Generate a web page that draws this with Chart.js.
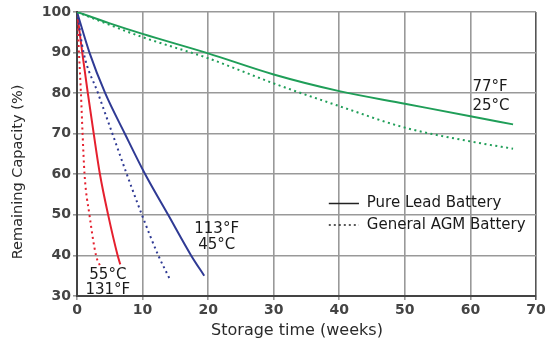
<!DOCTYPE html>
<html><head><meta charset="utf-8">
<script src="https://cdn.jsdelivr.net/npm/chart.js@4.4.0/dist/chart.umd.min.js"></script>
<style>html,body{margin:0;padding:0;background:#fff}#wrap{width:556px;height:353px}</style>
</head><body><div id="wrap"><canvas id="c" width="556" height="353"></canvas></div>
<script>
// ---- data (weeks vs remaining capacity %) ----
const xTickValues = [0, 10, 20, 30, 40, 50, 60, 70];
const yTickValues = [30, 40, 50, 60, 70, 80, 90, 100];

const lead25Weeks  = [0, 5, 10, 20, 30, 40, 50, 60, 66.5];
const lead25Values = [100, 97.2, 94.6, 89.8, 84.6, 80.5, 77.4, 74.3, 72.3];
const agm25Weeks   = [0, 5, 10, 20, 30, 40, 50, 60, 66.5];
const agm25Values  = [100, 96.8, 93.8, 88.6, 82.4, 76.8, 71.5, 68.1, 66.3];

const lead45Weeks  = [0, 1.9, 4.3, 7.3, 10.4, 13.9, 17.4, 19.4];
const lead45Values = [100, 90, 80, 70, 60, 50, 40, 35];
const agm45Weeks   = [0, 1.0, 3.2, 5.4, 7.6, 9.9, 12.4, 14.2];
const agm45Values  = [100, 90, 80, 70, 60, 50, 40, 34];

const lead55Weeks  = [0, 0.8, 1.65, 2.55, 3.5, 4.75, 6.2, 6.6];
const lead55Values = [100, 90, 80, 70, 60, 50, 40, 37.8];
const agm55Weeks   = [0, 0.3, 0.6, 0.85, 1.15, 1.9, 2.9, 3.5];
const agm55Values  = [100, 90, 80, 70, 60, 50, 40, 37.5];

const legendLabels = ["Pure Lead Battery", "General AGM Battery"];
const tempLabels = [
  {lines: ["77°F", "25°C"], x: 60.3, y: [81.5, 76.8], align: "left"},
  {lines: ["113°F", "45°C"], x: 21.3, y: [46.5, 42.6], align: "center"},
  {lines: ["55°C", "131°F"], x: 4.7, y: [35.2, 31.5], align: "center"}
];
const xTitle = "Storage time (weeks)";
const yTitle = "Remaining Capacity (%)";

const GREEN = "#1f9e58", BLUE = "#2f3a94", RED = "#e5202e";

function pts(xs, ys) { return xs.map((x, i) => ({x: x, y: ys[i]})); }
function ds(label, xs, ys, color, dashed) {
  return {
    label: label, data: pts(xs, ys), borderColor: color, backgroundColor: color,
    borderWidth: 2, borderDash: dashed ? [2, 3.5] : [],
    pointRadius: 0, fill: false, cubicInterpolationMode: "monotone", showLine: true
  };
}

const FONT = "DejaVu Sans";

const overlay = {
  id: "overlay",
  afterDraw(chart) {
    const c = chart.ctx, xs = chart.scales.x, ys = chart.scales.y;
    c.save();
    c.fillStyle = "#1a1a1a";
    c.textBaseline = "middle";
    // temperature labels
    c.font = "15px " + FONT;
    tempLabels.forEach(t => {
      c.textAlign = t.align;
      t.lines.forEach((ln, i) => c.fillText(ln, xs.getPixelForValue(t.x), ys.getPixelForValue(t.y[i])));
    });
    // legend
    const lx0 = xs.getPixelForValue(38.4), lx1 = xs.getPixelForValue(43.0), tx = xs.getPixelForValue(44.2);
    const ly = [ys.getPixelForValue(52.8), ys.getPixelForValue(47.5)];
    c.strokeStyle = "#222"; c.lineWidth = 1.5;
    [[], [2, 3]].forEach((d, i) => {
      c.setLineDash(d);
      c.beginPath(); c.moveTo(lx0, ly[i]); c.lineTo(lx1, ly[i]); c.stroke();
    });
    c.setLineDash([]);
    c.textAlign = "left";
    c.font = "15px " + FONT;
    legendLabels.forEach((l, i) => c.fillText(l, tx, ly[i]));
    // axis titles
    c.fillStyle = "#2a2a2a";
    c.font = "16px " + FONT;
    c.textAlign = "center";
    c.fillText(xTitle, 297, 331);
    c.translate(18, 172);
    c.rotate(-Math.PI / 2);
    c.font = "14.5px " + FONT;
    c.fillText(yTitle, 0, 0);
    c.restore();
  }
};

new Chart(document.getElementById("c"), {
  type: "line",
  data: {
    datasets: [
      ds("Pure Lead 77°F/25°C", lead25Weeks, lead25Values, GREEN, false),
      ds("General AGM 77°F/25°C", agm25Weeks, agm25Values, GREEN, true),
      ds("Pure Lead 113°F/45°C", lead45Weeks, lead45Values, BLUE, false),
      ds("General AGM 113°F/45°C", agm45Weeks, agm45Values, BLUE, true),
      ds("Pure Lead 131°F/55°C", lead55Weeks, lead55Values, RED, false),
      ds("General AGM 131°F/55°C", agm55Weeks, agm55Values, RED, true)
    ]
  },
  options: {
    responsive: false, animation: false,
    layout: {padding: {left: 0, right: 20, top: 12, bottom: 0}},
    plugins: {legend: {display: false}, tooltip: {enabled: false}},
    scales: {
      x: {
        type: "linear", min: 0, max: 70,
        afterBuildTicks: s => { s.ticks = xTickValues.map(v => ({value: v})); },
        afterFit: s => { s.height = 57; },
        grid: {color: ctx => (ctx.tick && ctx.tick.value === 70) ? "#555" : "#999", lineWidth: 1.6, tickLength: 4},
        border: {color: "#444", width: 2},
        ticks: {font: {family: FONT, size: 14, weight: "bold"}, color: "#444", padding: 2, maxRotation: 0}
      },
      y: {
        min: 30, max: 100,
        afterBuildTicks: s => { s.ticks = yTickValues.map(v => ({value: v})); },
        afterFit: s => { s.width = 77; },
        grid: {color: "#999", lineWidth: 1.6, tickLength: 4},
        border: {color: "#444", width: 2},
        ticks: {font: {family: FONT, size: 14, weight: "bold"}, color: "#444", padding: 2}
      }
    }
  },
  plugins: [overlay]
});
</script></body></html>
